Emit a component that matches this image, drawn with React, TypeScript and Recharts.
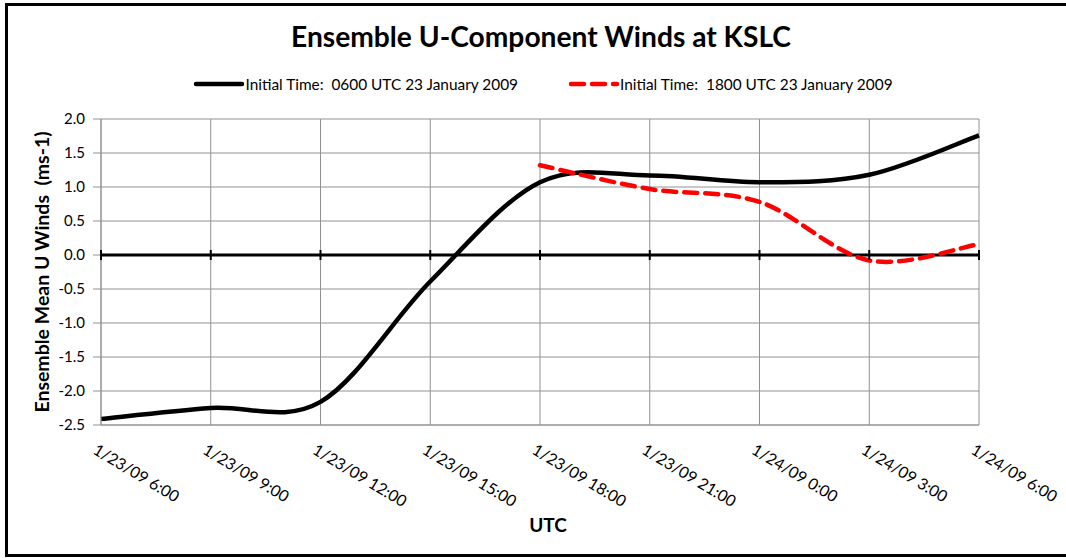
import React from "react"
import {
  CartesianGrid,
  Legend,
  Line,
  LineChart,
  ReferenceDot,
  ReferenceLine,
  XAxis,
  YAxis,
} from "recharts"

const times = [
  "1/23/09 6:00",
  "1/23/09 9:00",
  "1/23/09 12:00",
  "1/23/09 15:00",
  "1/23/09 18:00",
  "1/23/09 21:00",
  "1/24/09 0:00",
  "1/24/09 3:00",
  "1/24/09 6:00",
]
const run0600 = [-2.41, -2.25, -2.16, -0.39, 1.07, 1.17, 1.07, 1.18, 1.76]
const run1800 = [null, null, null, null, 1.32, 0.97, 0.78, -0.08, 0.16]
const yTicks = [-2.5, -2.0, -1.5, -1.0, -0.5, 0.0, 0.5, 1.0, 1.5, 2.0]

const data = times.map((t, i) => ({ time: t, a: run0600[i], b: run1800[i] }))

const FONT = "Lato, 'Open Sans', sans-serif"

// Excel style smoothed line (catmull-rom like bezier)
function excelSmooth(context: any) {
  let pts: number[][] = []
  return {
    areaStart() {},
    areaEnd() {},
    lineStart() {
      pts = []
    },
    lineEnd() {
      const n = pts.length
      if (!n) return
      context.moveTo(pts[0][0], pts[0][1])
      if (n === 1) {
        context.lineTo(pts[0][0], pts[0][1])
        return
      }
      for (let i = 0; i < n - 1; i++) {
        const p0 = pts[Math.max(i - 1, 0)]
        const p1 = pts[i]
        const p2 = pts[i + 1]
        const p3 = pts[Math.min(i + 2, n - 1)]
        context.bezierCurveTo(
          p1[0] + (p2[0] - p0[0]) / 6,
          p1[1] + (p2[1] - p0[1]) / 6,
          p2[0] - (p3[0] - p1[0]) / 6,
          p2[1] - (p3[1] - p1[1]) / 6,
          p2[0],
          p2[1]
        )
      }
    },
    point(x: number, y: number) {
      pts.push([+x, +y])
    },
  }
}

const XTick = ({ x, y, payload }: any) => {
  const px = x - 9
  const py = y + 20
  return (
    <text
      x={px}
      y={py}
      transform={`rotate(31 ${px} ${py})`}
      textAnchor="start"
      fontFamily={FONT}
      fontSize={16}
      fill="#000"
    >
      {payload.value}
    </text>
  )
}

const ZeroTick = ({ cx, cy }: any) => (
  <line x1={cx} x2={cx} y1={cy - 5} y2={cy + 5} stroke="#000" strokeWidth={2} />
)

const LegendContent = ({ payload }: any) => (
  <div
    style={{
      display: "flex",
      justifyContent: "center",
      gap: 50,
      fontFamily: FONT,
      fontSize: 15.4,
      whiteSpace: "pre",
      color: "#000",
    }}
  >
    {(payload || []).map((p: any) => (
      <div key={p.dataKey} style={{ display: "flex", alignItems: "center" }}>
        <svg width={52} height={10}>
          <line
            x1={3}
            x2={49}
            y1={5}
            y2={5}
            stroke={p.color}
            strokeWidth={4.5}
            strokeLinecap="round"
            strokeDasharray={p.dataKey === "b" ? "13 8" : undefined}
          />
        </svg>
        <span>{p.value}</span>
      </div>
    ))}
  </div>
)

export default function App() {
  return (
    <div
      style={{
        position: "absolute",
        left: 0,
        top: 0,
        width: 1066,
        height: 558,
        overflow: "hidden",
        background: "#fff",
      }}
    >
      <div
        style={{
          position: "absolute",
          left: 5,
          top: 3,
          width: 1100,
          height: 554,
          border: "3px solid #000",
          boxSizing: "border-box",
        }}
      />
      <div
        style={{
          position: "absolute",
          left: 0,
          top: 19,
          width: 1082,
          textAlign: "center",
          fontFamily: FONT,
          fontWeight: 700,
          fontSize: 28.2,
          color: "#000",
        }}
      >
        Ensemble U-Component Winds at KSLC
      </div>
      <div style={{ position: "absolute", left: 0, top: 0 }}>
        <LineChart
          width={1066}
          height={558}
          data={data}
          margin={{ top: 119, right: 87, bottom: 0, left: 0 }}
        >
          <CartesianGrid stroke="#929292" strokeWidth={1} />
          <XAxis
            dataKey="time"
            interval={0}
            height={133}
            tickLine={false}
            axisLine={{ stroke: "#929292" }}
            tick={<XTick />}
            label={{
              value: "UTC",
              position: "insideBottom",
              offset: 26,
              dx: 8,
              style: { fontFamily: FONT, fontWeight: 700, fontSize: 19, fill: "#000" },
            }}
          />
          <YAxis
            width={101}
            domain={[-2.5, 2]}
            ticks={yTicks}
            tickFormatter={(v: number) => v.toFixed(1)}
            tickSize={8}
            tickMargin={8}
            axisLine={{ stroke: "#929292" }}
            tickLine={{ stroke: "#929292" }}
            tick={{ fontFamily: FONT, fontSize: 15, fill: "#000" }}
            label={{
              value: "Ensemble Mean U Winds\u00a0 (ms-1)",
              angle: -90,
              position: "center",
              dx: -8,
              style: { fontFamily: FONT, fontWeight: 700, fontSize: 19.5, fill: "#000" },
            }}
          />
          <ReferenceLine y={0} stroke="#000" strokeWidth={3} />
          {times.map((t) => (
            <ReferenceDot key={t} x={t} y={0} shape={<ZeroTick />} />
          ))}
          <Legend
            verticalAlign="middle"
            align="center"
            layout="horizontal"
            wrapperStyle={{ top: 75, left: 0, width: 1086 }}
            content={<LegendContent />}
          />
          <Line
            dataKey="a"
            name="Initial Time:  0600 UTC 23 January 2009"
            type={excelSmooth as any}
            stroke="#000"
            strokeWidth={4.5}
            dot={false}
            activeDot={false}
            isAnimationActive={false}
          />
          <Line
            dataKey="b"
            name="Initial Time:  1800 UTC 23 January 2009"
            type={excelSmooth as any}
            stroke="#ff0000"
            strokeWidth={4.5}
            strokeDasharray="13 8"
            strokeLinecap="round"
            dot={false}
            activeDot={false}
            isAnimationActive={false}
          />
        </LineChart>
      </div>
    </div>
  )
}
